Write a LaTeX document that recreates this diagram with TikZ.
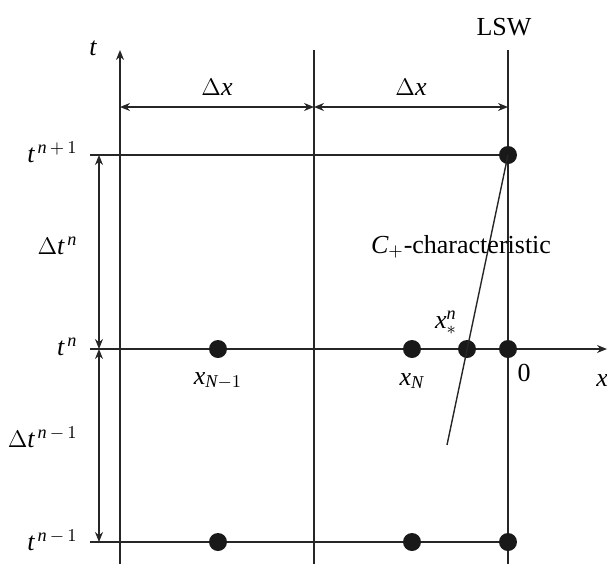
\documentclass[tikz,border=0pt]{standalone}
\usepackage{fontspec}
\setmainfont{Liberation Serif}
\usetikzlibrary{arrows.meta}
\newcommand{\mi}[1]{\mathit{#1}}
\begin{document}
\begin{tikzpicture}[x=0.5pt,y=-0.5pt,
  ln/.style={line width=0.7pt,draw=black!85},
  arr/.style={ln,-{Stealth[length=5pt,width=4pt]}},
  darr/.style={ln,{Stealth[length=5pt,width=4pt]}-{Stealth[length=5pt,width=4pt]}},
  dot/.style={circle,fill=black!90,minimum size=9pt,inner sep=0pt},
  lbl/.style={font=\fontsize{13}{15}\selectfont,inner sep=0pt}]
\useasboundingbox (0,0) rectangle (607,564);
% coordinates
\coordinate (a0) at (120,564); \coordinate (a1) at (120,50);
\coordinate (m0) at (314,564); \coordinate (m1) at (314,50);
\coordinate (l0) at (508,564); \coordinate (l1) at (508,50);
\coordinate (h1a) at (90,155); \coordinate (h1b) at (508,155);
\coordinate (h0a) at (90,349); \coordinate (h0b) at (607,349);
\coordinate (hma) at (90,542); \coordinate (hmb) at (508,542);
\coordinate (dxa) at (120,107); \coordinate (dxb) at (314,107); \coordinate (dxc) at (508,107);
\coordinate (dta) at (99,155); \coordinate (dtb) at (99,349); \coordinate (dtc) at (99,542);
\coordinate (chend) at (447,445);
% grid
\draw[arr] (a0) -- (a1);
\draw[ln] (m0) -- (m1);
\draw[ln] (l0) -- (l1);
\draw[ln] (h1a) -- (h1b);
\draw[arr] (h0a) -- (h0b);
\draw[ln] (hma) -- (hmb);
% dimension arrows
\draw[darr] (dxa) -- (dxb);
\draw[darr] (dxb) -- (dxc);
\draw[darr] (dta) -- (dtb);
\draw[darr] (dtb) -- (dtc);
% dots
\node[dot] (p1) at (508,155) {};
\node[dot] (q1) at (218,349) {};
\node[dot] (q2) at (412,349) {};
\node[dot] (q3) at (467,349) {};
\node[dot] (q4) at (508,349) {};
\node[dot] (r1) at (218,542) {};
\node[dot] (r2) at (412,542) {};
\node[dot] (r3) at (508,542) {};
% characteristic
\draw[ln] (p1.center) -- (chend);
% labels
\node[lbl] (tl) at (93,48) {$\mi{t}$};
\node[lbl] (lsw) at (504,27) {LSW};
\node[lbl] (dx1) at (217,87) {$\Delta \mi{x}$};
\node[lbl] (dx2) at (411,87) {$\Delta \mi{x}$};
\node[lbl,anchor=east] (tn1) at (78,152) {$\mi{t}^{\,\mi{n}\,+\,1}$};
\node[lbl,anchor=east] (tn) at (78,347) {$\mi{t}^{\,\mi{n}}$};
\node[lbl,anchor=east] (tnm) at (78,540) {$\mi{t}^{\,\mi{n}\,-\,1}$};
\node[lbl,anchor=east] (dtn) at (78,246) {$\Delta \mi{t}^{\,\mi{n}}$};
\node[lbl,anchor=east] (dtnm) at (78,437) {$\Delta \mi{t}^{\,\mi{n}\,-\,1}$};
\node[lbl] (xn1) at (218,381) {$\mi{x}_{\mi{N}-1}$};
\node[lbl] (xn) at (412,381) {$\mi{x}_{\mi{N}}$};
\node[lbl] (zero) at (524,373) {0};
\node[lbl,anchor=west] (xl) at (596,381) {$\mi{x}$};
\node[lbl] (xs) at (446,323) {$\mi{x}_*^{\mi{n}}$};
\node[lbl] (cc) at (461,247) {$\mi{C}_{+}$-characteristic};
\end{tikzpicture}
\end{document}
